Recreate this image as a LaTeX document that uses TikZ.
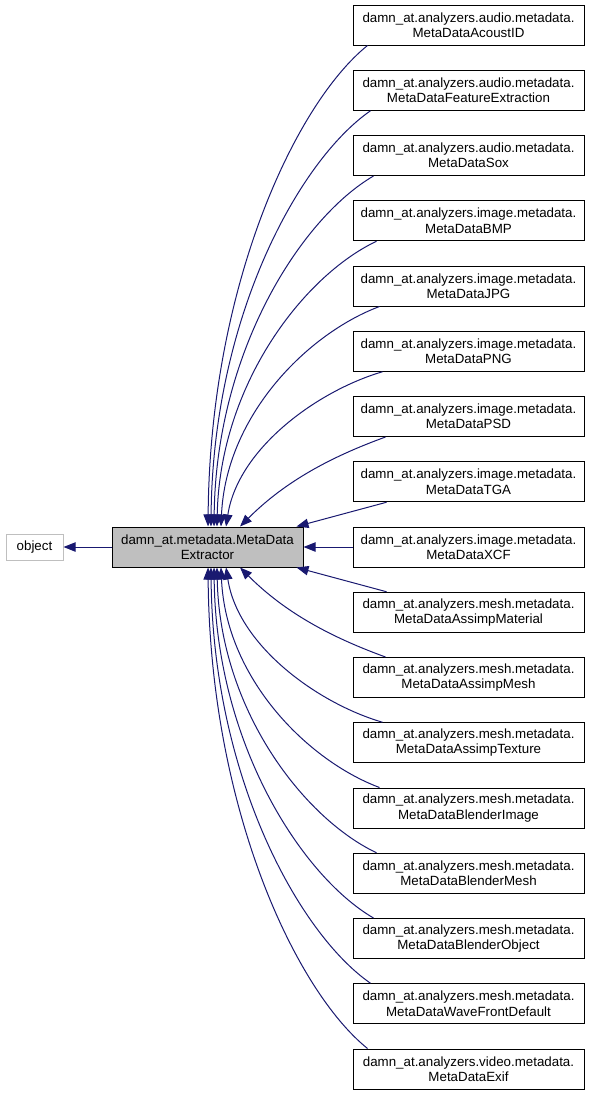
\documentclass[tikz,border=0pt]{standalone}
\usepackage{fontspec}
\setmainfont{Liberation Sans}
\usepackage{tikz}
\usetikzlibrary{arrows.meta}

\definecolor{edgeblue}{HTML}{191970}
\definecolor{boxgray}{HTML}{BFBFBF}

\begin{document}
\begin{tikzpicture}[x=0.75pt, y=-0.75pt,
    >={Triangle[length=9pt, width=7pt]},
    every node/.style={font=\fontsize{10}{11.5}\selectfont, align=center, inner sep=0pt},
    sub/.style={draw, line width=0.75pt, minimum width=173.25pt, minimum height=30pt},
    base/.style={draw, line width=0.75pt, fill=boxgray, minimum width=143.25pt, minimum height=30pt},
    ext/.style={draw=boxgray, line width=0.75pt, minimum width=42.75pt, minimum height=19.5pt},
    edge/.style={->, draw=edgeblue, line width=0.75pt}]
    \useasboundingbox (0,0) rectangle (592,1096);

    % Classe de base et parent
    \node[ext]  (obj) at (34.5,547)  {object};
    \node[base] (mde) at (207.5,547) {damn\_at.metadata.MetaData\\Extractor};

    % Classes derivees
    \node[sub] (acoustid)  at (468.5,25)      {damn\_at.analyzers.audio.metadata.\\MetaDataAcoustID};
    \node[sub] (featext)   at (468.5,90.25)   {damn\_at.analyzers.audio.metadata.\\MetaDataFeatureExtraction};
    \node[sub] (sox)       at (468.5,155.5)   {damn\_at.analyzers.audio.metadata.\\MetaDataSox};
    \node[sub] (bmp)       at (468.5,220.75)  {damn\_at.analyzers.image.metadata.\\MetaDataBMP};
    \node[sub] (jpg)       at (468.5,286)     {damn\_at.analyzers.image.metadata.\\MetaDataJPG};
    \node[sub] (png)       at (468.5,351.25)  {damn\_at.analyzers.image.metadata.\\MetaDataPNG};
    \node[sub] (psd)       at (468.5,416.5)   {damn\_at.analyzers.image.metadata.\\MetaDataPSD};
    \node[sub] (tga)       at (468.5,481.75)  {damn\_at.analyzers.image.metadata.\\MetaDataTGA};
    \node[sub] (xcf)       at (468.5,547)     {damn\_at.analyzers.image.metadata.\\MetaDataXCF};
    \node[sub] (material)  at (468.5,612.25)  {damn\_at.analyzers.mesh.metadata.\\MetaDataAssimpMaterial};
    \node[sub] (amesh)     at (468.5,677.5)   {damn\_at.analyzers.mesh.metadata.\\MetaDataAssimpMesh};
    \node[sub] (texture)   at (468.5,742.75)  {damn\_at.analyzers.mesh.metadata.\\MetaDataAssimpTexture};
    \node[sub] (bimage)    at (468.5,808)     {damn\_at.analyzers.mesh.metadata.\\MetaDataBlenderImage};
    \node[sub] (bmesh)     at (468.5,873.25)  {damn\_at.analyzers.mesh.metadata.\\MetaDataBlenderMesh};
    \node[sub] (bobject)   at (468.5,938.5)   {damn\_at.analyzers.mesh.metadata.\\MetaDataBlenderObject};
    \node[sub] (wavefront) at (468.5,1003.75) {damn\_at.analyzers.mesh.metadata.\\MetaDataWaveFrontDefault};
    \node[sub] (exif)      at (468.5,1069)    {damn\_at.analyzers.video.metadata.\\MetaDataExif};

    % Heritage vers object
    \draw[edge] (mde.west) -- (obj.east);

    % Aretes du haut
    \draw[edge] ([xshift=11.25pt]acoustid.south west) .. controls +(-72,58) and +(2,-241) .. ([xshift=0.4pt]mde.north);
    \draw[edge] ([xshift=13.5pt]featext.south west) .. controls +(-72,50) and +(2,-209) .. ([xshift=2.6pt]mde.north);
    \draw[edge] ([xshift=15.75pt]sox.south west) .. controls +(-72,42) and +(2,-176) .. ([xshift=4.9pt]mde.north);
    \draw[edge] ([xshift=18pt]bmp.south west) .. controls +(-72,34) and +(3,-143) .. ([xshift=7.1pt]mde.north);
    \draw[edge] ([xshift=20.25pt]jpg.south west) .. controls +(-72,27) and +(5,-111) .. ([xshift=10.1pt]mde.north);
    \draw[edge] ([xshift=22.5pt]png.south west) .. controls +(-65,19) and +(12,-78) .. ([xshift=13.9pt]mde.north);
    \draw[edge] ([xshift=24.75pt]psd.south west) .. controls +(-55,20) and +(45,-45) .. ([xshift=24.4pt]mde.north);
    \draw[edge] ([xshift=25.5pt]tga.south west) -- ([xshift=-5.25pt]mde.north east);

    % Arete horizontale
    \draw[edge] (xcf.west) -- (mde.east);

    % Aretes du bas
    \draw[edge] ([xshift=25.5pt]material.north west) -- ([xshift=-5.25pt]mde.south east);
    \draw[edge] ([xshift=24.75pt]amesh.north west) .. controls +(-55,-20) and +(45,45) .. ([xshift=24.4pt]mde.south);
    \draw[edge] ([xshift=22.5pt]texture.north west) .. controls +(-65,-19) and +(12,78) .. ([xshift=13.9pt]mde.south);
    \draw[edge] ([xshift=20.25pt]bimage.north west) .. controls +(-72,-27) and +(5,111) .. ([xshift=10.1pt]mde.south);
    \draw[edge] ([xshift=18pt]bmesh.north west) .. controls +(-72,-34) and +(3,143) .. ([xshift=7.1pt]mde.south);
    \draw[edge] ([xshift=15.75pt]bobject.north west) .. controls +(-72,-42) and +(2,176) .. ([xshift=4.9pt]mde.south);
    \draw[edge] ([xshift=13.5pt]wavefront.north west) .. controls +(-72,-50) and +(2,209) .. ([xshift=2.6pt]mde.south);
    \draw[edge] ([xshift=11.25pt]exif.north west) .. controls +(-72,-58) and +(2,241) .. ([xshift=0.4pt]mde.south);

\end{tikzpicture}
\end{document}
